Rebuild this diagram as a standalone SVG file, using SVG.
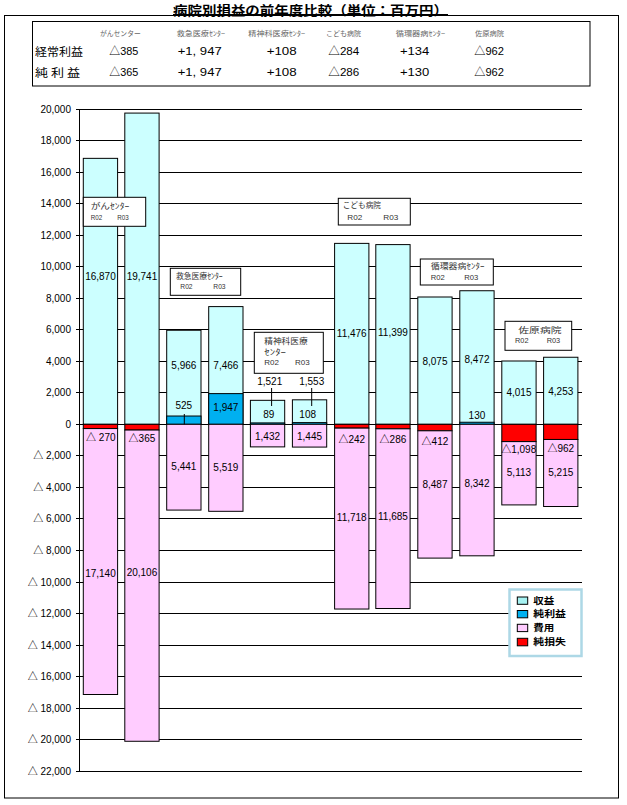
<svg xmlns="http://www.w3.org/2000/svg" width="627" height="805" viewBox="0 0 627 805">
<style>
text{font-family:"Liberation Sans","Noto Sans CJK JP",sans-serif;dominant-baseline:central}
.jp{font-family:"Noto Sans CJK JP","Liberation Sans",sans-serif}
.grid{stroke:#000;stroke-width:1;fill:none;shape-rendering:crispEdges}
.bx{stroke:#000;stroke-width:1}
.rev{fill:#CCFFFF}
.prof{fill:#00B0F0}
.exp{fill:#FFCCFF}
.loss{fill:#FF0000}
.lbl{font-size:10px;text-anchor:middle;fill:#000}
.ax{font-size:10px;text-anchor:end;fill:#000}
.note rect{fill:#fff;stroke:#000;stroke-width:1}
.nt{font-size:8px;fill:#333}
.hd{font-size:7px;fill:#666}
.tv{font-size:11px;fill:#000}
.lg{font-size:9.3px;font-weight:bold;fill:#000}
.conn{stroke:#000;stroke-width:1;fill:none}
</style>
<rect width="627" height="805" fill="#fff"/>

<g id="title">
<text class="jp" x="173" y="9.6" font-size="13" font-weight="bold" textLength="275" lengthAdjust="spacingAndGlyphs">病院別損益の前年度比較（単位：百万円）</text>
<line x1="173" y1="14.5" x2="448" y2="14.5" stroke="#000" stroke-width="1"/>
</g>

<g id="frame">
<rect x="4.5" y="15.5" width="614" height="782.5" fill="none" stroke="#000" stroke-width="1"/>
</g>

<g id="summary-table">
<rect x="32.5" y="21.5" width="557.5" height="64.5" fill="none" stroke="#000" stroke-width="1"/>
<text class="jp hd" x="100" y="33.3" textLength="40.7" lengthAdjust="spacingAndGlyphs">がんセンター</text>
<text class="jp hd" x="176.7" y="33.3" textLength="48.3" lengthAdjust="spacingAndGlyphs">救急医療ｾﾝﾀｰ</text>
<text class="jp hd" x="248.3" y="33.3" textLength="56.7" lengthAdjust="spacingAndGlyphs">精神科医療ｾﾝﾀｰ</text>
<text class="jp hd" x="326" y="33.3" textLength="35" lengthAdjust="spacingAndGlyphs">こども病院</text>
<text class="jp hd" x="395.7" y="33.3" textLength="49.3" lengthAdjust="spacingAndGlyphs">循環器病ｾﾝﾀｰ</text>
<text class="jp hd" x="475" y="33.3" textLength="29" lengthAdjust="spacingAndGlyphs">佐原病院</text>
<text class="jp tv" x="35" y="51" textLength="48" lengthAdjust="spacingAndGlyphs">経常利益</text>
<text class="jp tv" x="35" y="71.7" textLength="45" lengthAdjust="spacingAndGlyphs">純 利 益</text>
<text class="tv" x="109.3" y="51" textLength="29" lengthAdjust="spacingAndGlyphs">△385</text>
<text class="tv" x="177.7" y="51" textLength="44" lengthAdjust="spacingAndGlyphs">+1, 947</text>
<text class="tv" x="266.7" y="51" textLength="30" lengthAdjust="spacingAndGlyphs">+108</text>
<text class="tv" x="328.3" y="51" textLength="31" lengthAdjust="spacingAndGlyphs">△284</text>
<text class="tv" x="400" y="51" textLength="29.3" lengthAdjust="spacingAndGlyphs">+134</text>
<text class="tv" x="474.3" y="51" textLength="29.7" lengthAdjust="spacingAndGlyphs">△962</text>
<text class="tv" x="109.3" y="71.7" textLength="29" lengthAdjust="spacingAndGlyphs">△365</text>
<text class="tv" x="177.7" y="71.7" textLength="44" lengthAdjust="spacingAndGlyphs">+1, 947</text>
<text class="tv" x="266.7" y="71.7" textLength="30" lengthAdjust="spacingAndGlyphs">+108</text>
<text class="tv" x="328.3" y="71.7" textLength="31" lengthAdjust="spacingAndGlyphs">△286</text>
<text class="tv" x="400" y="71.7" textLength="29.3" lengthAdjust="spacingAndGlyphs">+130</text>
<text class="tv" x="474.3" y="71.7" textLength="29.7" lengthAdjust="spacingAndGlyphs">△962</text>
</g>

<g id="gridlines">
<path class="grid" d="M80 109H582M80 140.5H582M80 172.1H582M80 203.6H582M80 235.1H582M80 266.7H582M80 298.2H582M80 329.7H582M80 361.2H582M80 392.8H582M80 424.3H582M80 455.8H582M80 487.4H582M80 518.9H582M80 550.4H582M80 582H582M80 613.5H582M80 645H582M80 676.5H582M80 708.1H582M80 739.6H582M80 771.1H582"/>
</g>

<g id="y-axis">
<path class="grid" d="M79.5 109V771.1M76 109H80M76 140.5H80M76 172.1H80M76 203.6H80M76 235.1H80M76 266.7H80M76 298.2H80M76 329.7H80M76 361.2H80M76 392.8H80M76 424.3H80M76 455.8H80M76 487.4H80M76 518.9H80M76 550.4H80M76 582H80M76 613.5H80M76 645H80M76 676.5H80M76 708.1H80M76 739.6H80M76 771.1H80"/>
<text class="ax" x="71" y="109">20,000</text>
<text class="ax" x="71" y="140.5">18,000</text>
<text class="ax" x="71" y="172.1">16,000</text>
<text class="ax" x="71" y="203.6">14,000</text>
<text class="ax" x="71" y="235.1">12,000</text>
<text class="ax" x="71" y="266.7">10,000</text>
<text class="ax" x="71" y="298.2">8,000</text>
<text class="ax" x="71" y="329.7">6,000</text>
<text class="ax" x="71" y="361.2">4,000</text>
<text class="ax" x="71" y="392.8">2,000</text>
<text class="ax" x="71" y="424.3">0</text>
<text class="ax" x="71" y="455.8">△ 2,000</text>
<text class="ax" x="71" y="487.4">△ 4,000</text>
<text class="ax" x="71" y="518.9">△ 6,000</text>
<text class="ax" x="71" y="550.4">△ 8,000</text>
<text class="ax" x="71" y="582">△ 10,000</text>
<text class="ax" x="71" y="613.5">△ 12,000</text>
<text class="ax" x="71" y="645">△ 14,000</text>
<text class="ax" x="71" y="676.5">△ 16,000</text>
<text class="ax" x="71" y="708.1">△ 18,000</text>
<text class="ax" x="71" y="739.6">△ 20,000</text>
<text class="ax" x="71" y="771.1">△ 22,000</text>
</g>

<g id="bar-gan-r02">
<rect class="bx rev" x="83.3" y="158.35" width="34.3" height="265.95"/>
<rect class="bx loss" x="83.3" y="424.3" width="34.3" height="4.26"/>
<rect class="bx exp" x="83.3" y="428.56" width="34.3" height="265.94"/>
<text class="lbl" x="100.45" y="276">16,870</text>
<text class="lbl" x="100.8" y="437.7">△ 270</text>
<text class="lbl" x="100.45" y="573.3">17,140</text>
</g>
<g id="bar-gan-r03">
<rect class="bx rev" x="124.8" y="113.08" width="34.3" height="311.22"/>
<rect class="bx loss" x="124.8" y="424.3" width="34.3" height="5.75"/>
<rect class="bx exp" x="124.8" y="430.05" width="34.3" height="311.22"/>
<text class="lbl" x="141.95" y="276">19,741</text>
<text class="lbl" x="141.95" y="438">△365</text>
<text class="lbl" x="141.95" y="572.7">20,106</text>
</g>
<g id="bar-kyukyu-r02">
<rect class="bx rev" x="166.7" y="330.25" width="34.3" height="94.05"/>
<rect class="bx prof" x="166.7" y="416.02" width="34.3" height="8.28"/>
<rect class="bx exp" x="166.7" y="424.3" width="34.3" height="85.78"/>
<text class="lbl" x="183.85" y="365.3">5,966</text>
<text class="lbl" x="183.85" y="405.7">525</text>
<text class="lbl" x="183.85" y="466.7">5,441</text>
</g>
<g id="bar-kyukyu-r03">
<rect class="bx rev" x="208.7" y="306.6" width="34.3" height="117.7"/>
<rect class="bx prof" x="208.7" y="393.61" width="34.3" height="30.69"/>
<rect class="bx exp" x="208.7" y="424.3" width="34.3" height="87.01"/>
<text class="lbl" x="225.85" y="365.3">7,466</text>
<text class="lbl" x="225.85" y="407.3">1,947</text>
<text class="lbl" x="225.85" y="467.3">5,519</text>
</g>
<g id="bar-seishin-r02">
<rect class="bx rev" x="250.4" y="400.32" width="34.3" height="23.98"/>
<rect class="bx prof" x="250.4" y="422.9" width="34.3" height="1.4"/>
<rect class="bx exp" x="250.4" y="424.3" width="34.3" height="22.58"/>
<text class="lbl" x="269.7" y="381.7">1,521</text>
<text class="lbl" x="268.7" y="414">89</text>
<text class="lbl" x="267.55" y="436">1,432</text>
</g>
<g id="bar-seishin-r03">
<rect class="bx rev" x="292.4" y="399.82" width="34.3" height="24.48"/>
<rect class="bx prof" x="292.4" y="422.6" width="34.3" height="1.7"/>
<rect class="bx exp" x="292.4" y="424.3" width="34.3" height="22.78"/>
<text class="lbl" x="311.7" y="381.7">1,553</text>
<text class="lbl" x="307.7" y="414">108</text>
<text class="lbl" x="309.55" y="436">1,445</text>
</g>
<g id="bar-kodomo-r02">
<rect class="bx rev" x="334.6" y="243.38" width="34.3" height="180.92"/>
<rect class="bx loss" x="334.6" y="424.3" width="34.3" height="3.82"/>
<rect class="bx exp" x="334.6" y="428.12" width="34.3" height="180.91"/>
<text class="lbl" x="351.75" y="333.3">11,476</text>
<text class="lbl" x="351.75" y="439.3">△242</text>
<text class="lbl" x="351.75" y="517.3">11,718</text>
</g>
<g id="bar-kodomo-r03">
<rect class="bx rev" x="375.8" y="244.6" width="34.3" height="179.7"/>
<rect class="bx loss" x="375.8" y="424.3" width="34.3" height="4.51"/>
<rect class="bx exp" x="375.8" y="428.81" width="34.3" height="179.7"/>
<text class="lbl" x="392.95" y="332.3">11,399</text>
<text class="lbl" x="392.95" y="439">△286</text>
<text class="lbl" x="392.95" y="516.7">11,685</text>
</g>
<g id="bar-junkanki-r02">
<rect class="bx rev" x="417.8" y="297" width="34.3" height="127.3"/>
<rect class="bx loss" x="417.8" y="424.3" width="34.3" height="6.5"/>
<rect class="bx exp" x="417.8" y="430.8" width="34.3" height="127.3"/>
<text class="lbl" x="434.95" y="361">8,075</text>
<text class="lbl" x="434.95" y="441.7">△412</text>
<text class="lbl" x="434.95" y="484.3">8,487</text>
</g>
<g id="bar-junkanki-r03">
<rect class="bx rev" x="459.8" y="290.74" width="34.3" height="133.56"/>
<rect class="bx prof" x="459.8" y="422.25" width="34.3" height="2.05"/>
<rect class="bx exp" x="459.8" y="424.3" width="34.3" height="131.51"/>
<text class="lbl" x="476.95" y="359">8,472</text>
<text class="lbl" x="476.95" y="415">130</text>
<text class="lbl" x="476.95" y="483.3">8,342</text>
</g>
<g id="bar-sawara-r02">
<rect class="bx rev" x="501.8" y="361" width="34.3" height="63.3"/>
<rect class="bx loss" x="501.8" y="424.3" width="34.3" height="17.31"/>
<rect class="bx exp" x="501.8" y="441.61" width="34.3" height="63.3"/>
<text class="lbl" x="518.95" y="392.3">4,015</text>
<text class="lbl" x="518.7" y="449.3">△1,098</text>
<text class="lbl" x="518.95" y="472.3">5,113</text>
</g>
<g id="bar-sawara-r03">
<rect class="bx rev" x="543.6" y="357.25" width="34.3" height="67.05"/>
<rect class="bx loss" x="543.6" y="424.3" width="34.3" height="15.17"/>
<rect class="bx exp" x="543.6" y="439.47" width="34.3" height="67.04"/>
<text class="lbl" x="560.75" y="391.7">4,253</text>
<text class="lbl" x="560.75" y="448.3">△962</text>
<text class="lbl" x="560.75" y="472.3">5,215</text>
</g>

<g id="connectors">
<line class="conn" x1="184.3" y1="414" x2="184.3" y2="424.3"/>
<line class="conn" x1="271.6" y1="388" x2="271.6" y2="406"/>
<line class="conn" x1="311.7" y1="388" x2="311.7" y2="406"/>
</g>

<g id="note-gan" class="note">
<rect x="83.3" y="197.3" width="62.4" height="29"/>
<text class="jp nt" x="90.7" y="205.3" font-size="9" textLength="38.7" lengthAdjust="spacingAndGlyphs">がんｾﾝﾀｰ</text>
<text class="nt" x="90.7" y="217.3" textLength="11.5" lengthAdjust="spacingAndGlyphs">R02</text>
<text class="nt" x="117.3" y="217.3" textLength="11.5" lengthAdjust="spacingAndGlyphs">R03</text>
</g>
<g id="note-kyukyu" class="note">
<rect x="170.3" y="268.3" width="70.4" height="27"/>
<text class="jp nt" x="176" y="275" textLength="46.7" lengthAdjust="spacingAndGlyphs">救急医療ｾﾝﾀｰ</text>
<text class="nt" x="180.3" y="286.7" textLength="12.3" lengthAdjust="spacingAndGlyphs">R02</text>
<text class="nt" x="213.3" y="286.7" textLength="12.3" lengthAdjust="spacingAndGlyphs">R03</text>
</g>
<g id="note-seishin" class="note">
<rect x="254.3" y="332.3" width="69" height="41"/>
<text class="jp nt" x="264.3" y="340" font-size="9" textLength="43.3" lengthAdjust="spacingAndGlyphs">精神科医療</text>
<text class="jp nt" x="264.3" y="351" textLength="21.7" lengthAdjust="spacingAndGlyphs">ｾﾝﾀｰ</text>
<text class="nt" x="264.3" y="362.3" textLength="14.7" lengthAdjust="spacingAndGlyphs">R02</text>
<text class="nt" x="295" y="362.3" textLength="14.7" lengthAdjust="spacingAndGlyphs">R03</text>
</g>
<g id="note-kodomo" class="note">
<rect x="338.3" y="198.3" width="72" height="26.7"/>
<text class="jp nt" x="342.7" y="204.5" textLength="38.3" lengthAdjust="spacingAndGlyphs">こども病院</text>
<text class="nt" x="347.3" y="217.3" textLength="15" lengthAdjust="spacingAndGlyphs">R02</text>
<text class="nt" x="383.3" y="217.3" textLength="15" lengthAdjust="spacingAndGlyphs">R03</text>
</g>
<g id="note-junkanki" class="note">
<rect x="420.3" y="259" width="73" height="26"/>
<text class="jp nt" x="430.7" y="265.5" font-size="9" textLength="53.7" lengthAdjust="spacingAndGlyphs">循環器病ｾﾝﾀｰ</text>
<text class="nt" x="430.7" y="277.3" textLength="14" lengthAdjust="spacingAndGlyphs">R02</text>
<text class="nt" x="464.3" y="277.3" textLength="14" lengthAdjust="spacingAndGlyphs">R03</text>
</g>
<g id="note-sawara" class="note">
<rect x="505" y="321.3" width="66.7" height="29"/>
<text class="jp nt" x="518.3" y="329" font-size="10" textLength="43.3" lengthAdjust="spacingAndGlyphs">佐原病院</text>
<text class="nt" x="515" y="340" textLength="13.5" lengthAdjust="spacingAndGlyphs">R02</text>
<text class="nt" x="546.7" y="340" textLength="13.5" lengthAdjust="spacingAndGlyphs">R03</text>
</g>

<g id="legend">
<rect x="509.5" y="589.5" width="72" height="66.5" fill="#fff" stroke="#ADD8E6" stroke-width="2.5"/>
<rect x="517.3" y="597" width="10.4" height="7.3" fill="#A6F2F2" stroke="#000" stroke-width="1"/>
<rect x="517.3" y="610.5" width="10.4" height="7.3" fill="#00B0F0" stroke="#000" stroke-width="1"/>
<rect x="517.3" y="624.3" width="10.4" height="7.3" fill="#FFCCFF" stroke="#000" stroke-width="1"/>
<rect x="517.3" y="638.3" width="10.4" height="7.5" fill="#FF0000" stroke="#000" stroke-width="1"/>
<text class="jp lg" x="533.3" y="599.7" textLength="21" lengthAdjust="spacingAndGlyphs">収益</text>
<text class="jp lg" x="533.3" y="613.3" textLength="32.7" lengthAdjust="spacingAndGlyphs">純利益</text>
<text class="jp lg" x="533.3" y="626.9" textLength="21" lengthAdjust="spacingAndGlyphs">費用</text>
<text class="jp lg" x="533.3" y="640.5" textLength="32.7" lengthAdjust="spacingAndGlyphs">純損失</text>
</g>
</svg>
